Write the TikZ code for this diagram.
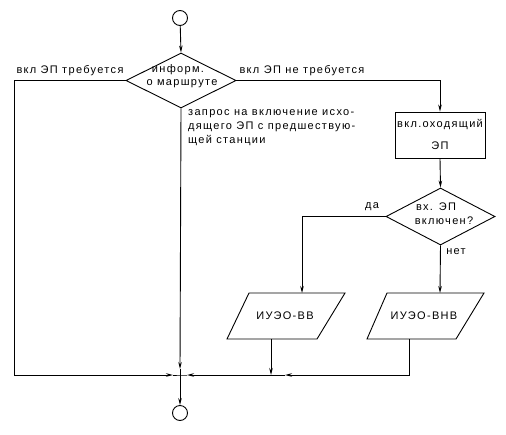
\documentclass[tikz,border=0pt]{standalone}
\usepackage{fontspec}
\setmainfont[LetterSpace=12]{Liberation Sans}
\usetikzlibrary{shapes.geometric,arrows.meta}
\begin{document}
\begin{tikzpicture}[x=1pt,y=-1pt,
  line/.style={line width=0.9pt},
  arr/.style={line, -{Stealth[length=7pt,width=3.5pt]}},
  txt/.style={font=\fontsize{11}{14}\selectfont, inner sep=0pt},
  term/.style={circle, draw, line width=0.9pt, minimum size=15pt, inner sep=0pt},
  dec/.style={diamond, draw, line width=0.9pt, inner sep=0pt},
  proc/.style={rectangle, draw, line width=0.9pt, minimum width=90pt, minimum height=46pt, inner sep=0pt},
  iobox/.style={line width=0.9pt, line join=miter}
]
\useasboundingbox (0,0) rectangle (506,434);
% nodes
\node[term] (start) at (180,18) {};
\node[dec, minimum width=110pt, minimum height=55pt] (d1) at (181,80.5) {};
\node[txt] (d1a) at (178,70) {информ.};
\node[txt] (d1b) at (182,84) {о маршруте};
\node[proc] (box) at (440,135) {};
\node[txt] (boxa) at (440,125) {вкл.оходящий};
\node[txt] (boxb) at (440,146) {ЭП};
\node[dec, minimum width=109pt, minimum height=57pt] (d2) at (440.5,216.5) {};
\node[txt] (d2a) at (436,207) {вх. ЭП};
\node[txt] (d2b) at (444,221) {включен?};
% parallelograms
\coordinate (ivvtl) at (249,293);
\coordinate (ivvtr) at (345,293);
\coordinate (ivvbr) at (317,339);
\coordinate (ivvbl) at (227,339);
\draw[iobox] (ivvtl) -- (ivvtr) -- (ivvbr) -- (ivvbl) -- cycle;
\node[txt] (ivv) at (285,316) {ИУЭО-ВВ};
\coordinate (ivnvtl) at (387,293);
\coordinate (ivnvtr) at (484,293);
\coordinate (ivnvbr) at (456,339);
\coordinate (ivnvbl) at (367,339);
\draw[iobox] (ivnvtl) -- (ivnvtr) -- (ivnvbr) -- (ivnvbl) -- cycle;
\node[txt] (ivnv) at (424,316) {ИУЭО-ВНВ};
\node[term] (stop) at (180,413) {};
% labels
\node[txt] (l1) at (70,71) {вкл ЭП требуется};
\node[txt] (l2) at (302,71) {вкл ЭП не требуется};
\node[txt, anchor=north west, align=left] (l3) at (188,109) {запрос на включение исхо-\\дящего ЭП с предшествую-\\щей станции};
\node[txt] (l4) at (372,207) {да};
\node[txt] (l5) at (456,252) {нет};
% coordinates
\coordinate (bl) at (14,375);
\coordinate (jc) at (180,375);
\coordinate (ivvin) at (302,293);
\coordinate (ivnvin) at (440,293);
\coordinate (ivvout) at (271,339);
\coordinate (ivnvout) at (409,339);
\coordinate (jv) at (271,375);
\coordinate (jr) at (285,375);
\coordinate (jl) at (187,375);
\coordinate (jll) at (173,375);
\coordinate (jt) at (180,369);
% connectors
\draw[arr] (start) -- (d1.north);
\draw[arr] (d1.east) -| (box.north);
\draw[arr] (box.south) -- (d2.north);
\draw[arr] (d2.west) -| (ivvin);
\draw[arr] (d2.south) -- (ivnvin);
\draw[line] (d1.west) -| (bl);
\draw[arr] (bl) -- (jll);
\draw[arr] (d1.south) -- (jt);
\draw[line] (jt) -- (jc);
\draw[arr] (ivvout) -- (jv);
\draw[arr] (ivnvout) |- (jr);
\draw[line] (jr) -- (jv);
\draw[arr] (jv) -- (jl);
\draw[line] (jl) -- (jc) -- (jll);
\draw[arr] (jc) -- (stop);
\end{tikzpicture}
\end{document}
